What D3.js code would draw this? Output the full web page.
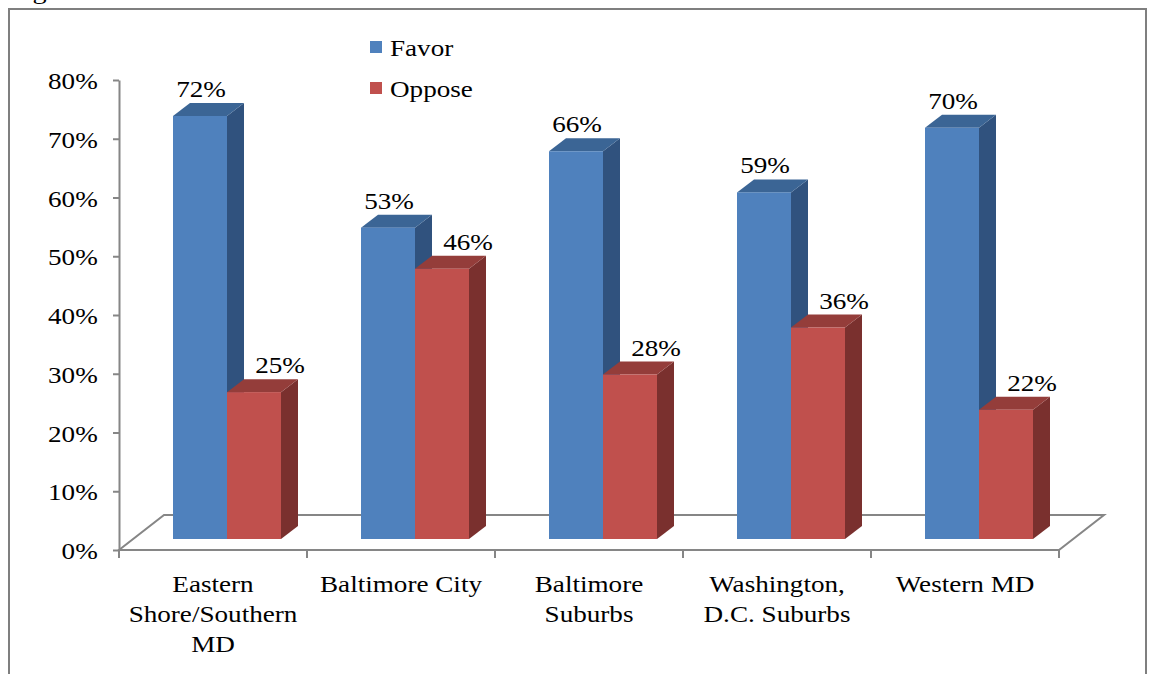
<!DOCTYPE html>
<html>
<head>
<meta charset="utf-8">
<script src="https://cdn.jsdelivr.net/npm/d3@7"></script>
<style>
  body { margin: 0; background: #fff; }
  svg text { font-family: "Liberation Serif", "Times New Roman", Times, "DejaVu Serif", serif; fill: #000; }
</style>
</head>
<body>
<script>
const width = 1149;
const height = 674;

// data
const categories = ["Eastern Shore/Southern MD", "Baltimore City", "Baltimore Suburbs", "Washington, D.C. Suburbs", "Western MD"];
const categoryLines = [["Eastern", "Shore/Southern", "MD"], ["Baltimore City"], ["Baltimore", "Suburbs"], ["Washington,", "D.C. Suburbs"], ["Western MD"]];
const series = ["Favor", "Oppose"];
const favor = [0.72, 0.53, 0.66, 0.59, 0.70];
const oppose = [0.25, 0.46, 0.28, 0.36, 0.22];
const yTicks = [0, 0.1, 0.2, 0.3, 0.4, 0.5, 0.6, 0.7, 0.8];

const colors = {
  Favor: { front: "#4f81bd", top: "#3b6595", side: "#30527e" },
  Oppose: { front: "#c0504d", top: "#943d3a", side: "#7a302e" },
};

const plot = { left: 119, right: 1059, top: 80, bottom: 550 };
const floorDepth = { dx: 45, dy: -35 };
const barDepth = { dx: 17, dy: -13 };
const barShift = { dx: 14, dy: -11 }; // bars sit in the middle of the floor
const fontSize = 23;
const stretch = 1.18; // text in the reference is wide
const axisColor = "#868686";
const serif = "'Liberation Serif', 'Times New Roman', Times, 'DejaVu Serif', serif";

const svg = d3.select("body")
  .append("svg")
  .attr("width", width)
  .attr("height", height);

// frame
svg.append("rect")
  .attr("x", 9)
  .attr("y", 9)
  .attr("width", 1137)
  .attr("height", 700)
  .attr("fill", "none")
  .attr("stroke", "#7f7f7f")
  .attr("stroke-width", 2);

// clipped caption above the frame
svg.append("text")
  .attr("transform", "translate(9,-1) scale(" + stretch + ",1)")
  .attr("font-size", 24)
  .text("Figure");

const xScale = d3.scaleBand()
  .domain(categories)
  .range([plot.left, plot.right]);

const barWidth = 54;
const subScale = d3.scaleBand()
  .domain(series)
  .range([0, barWidth * 2]);

const yScale = d3.scaleLinear()
  .domain([0, 0.8])
  .range([plot.bottom, plot.top]);

// floor
const floor = [
  [plot.left, plot.bottom],
  [plot.right, plot.bottom],
  [plot.right + floorDepth.dx, plot.bottom + floorDepth.dy],
  [plot.left + floorDepth.dx, plot.bottom + floorDepth.dy],
];
svg.append("polygon")
  .attr("points", floor.map(p => p.join(",")).join(" "))
  .attr("fill", "#fff")
  .attr("stroke", axisColor)
  .attr("stroke-width", 2);

// y axis
const yAxis = d3.axisLeft(yScale)
  .tickValues(yTicks)
  .tickFormat(d3.format(".0%"))
  .tickSizeInner(6)
  .tickSizeOuter(0)
  .tickPadding(12);

const y_g = svg.append("g")
  .attr("class", "y_axis")
  .attr("transform", "translate(" + plot.left + ",0)")
  .call(yAxis)
  .attr("font-family", serif);
y_g.select(".domain").attr("stroke", axisColor).attr("stroke-width", 2);
y_g.selectAll(".tick line").attr("stroke", axisColor).attr("stroke-width", 2);
y_g.selectAll(".tick text")
  .attr("font-size", fontSize)
  .attr("fill", "#000")
  .attr("dy", "0.38em")
  .attr("transform", "scale(" + stretch + ",1)");

// x axis: labels centred on bands, ticks on band edges
const xAxis = d3.axisBottom(xScale).tickSize(0).tickPadding(0);
const x_g = svg.append("g")
  .attr("class", "x_axis")
  .attr("transform", "translate(0," + plot.bottom + ")")
  .call(xAxis)
  .attr("font-family", serif);
x_g.select(".domain").remove();
x_g.selectAll(".tick text").each(function(d, i) {
  const t = d3.select(this)
    .text(null)
    .attr("y", 0)
    .attr("dy", null)
    .attr("font-size", fontSize)
    .attr("fill", "#000")
    .attr("transform", "scale(" + stretch + ",1)");
  categoryLines[i].forEach((line, j) => {
    t.append("tspan")
      .attr("x", 0)
      .attr("y", 42 + j * 30)
      .text(line);
  });
});

const edges = categories.map(c => xScale(c)).concat([plot.right]);
svg.append("g")
  .selectAll("line")
  .data(edges)
  .enter()
  .append("line")
  .attr("x1", d => d)
  .attr("x2", d => d)
  .attr("y1", plot.bottom)
  .attr("y2", plot.bottom + 8)
  .attr("stroke", axisColor)
  .attr("stroke-width", 2);

// bars
const bars = [];
categories.forEach((c, i) => {
  series.forEach(s => {
    const v = s === "Favor" ? favor[i] : oppose[i];
    const x0 = xScale(c) + (xScale.bandwidth() - barWidth * 2) / 2 + barShift.dx + subScale(s);
    bars.push({
      series: s,
      value: v,
      x0: x0,
      x1: x0 + subScale.bandwidth(),
      yTop: yScale(v) + barShift.dy,
      yBase: yScale(0) + barShift.dy,
    });
  });
});

const bar_g = svg.append("g").attr("class", "bars");
const pts = arr => arr.map(p => p.join(",")).join(" ");

bars.forEach(b => {
  const g = bar_g.append("g");
  const c = colors[b.series];
  g.append("polygon")
    .attr("points", pts([
      [b.x1, b.yTop], [b.x1 + barDepth.dx, b.yTop + barDepth.dy],
      [b.x1 + barDepth.dx, b.yBase + barDepth.dy], [b.x1, b.yBase]]))
    .attr("fill", c.side);
  g.append("polygon")
    .attr("points", pts([
      [b.x0, b.yTop], [b.x0 + barDepth.dx, b.yTop + barDepth.dy],
      [b.x1 + barDepth.dx, b.yTop + barDepth.dy], [b.x1, b.yTop]]))
    .attr("fill", c.top);
  g.append("rect")
    .attr("x", b.x0)
    .attr("y", b.yTop)
    .attr("width", b.x1 - b.x0)
    .attr("height", b.yBase - b.yTop)
    .attr("fill", c.front);
});

// value labels
svg.append("g")
  .selectAll("text")
  .data(bars)
  .enter()
  .append("text")
  .attr("text-anchor", "middle")
  .attr("font-size", fontSize)
  .attr("transform", d => {
    const cx = (d.x0 + d.x1) / 2 + (d.series === "Favor" ? 1 : 26);
    return "translate(" + cx + "," + (d.yTop - 19) + ") scale(" + stretch + ",1)";
  })
  .text(d => d3.format(".0%")(d.value));

// legend
const legend = svg.append("g")
  .attr("class", "legend")
  .selectAll("g")
  .data(series)
  .enter()
  .append("g")
  .attr("transform", (d, i) => "translate(370," + (41 + i * 41) + ")");
legend.append("rect")
  .attr("width", 12)
  .attr("height", 12)
  .attr("fill", d => colors[d].front);
legend.append("text")
  .attr("transform", "translate(20,15) scale(" + stretch + ",1)")
  .attr("font-size", fontSize)
  .text(d => d);
</script>
</body>
</html>
